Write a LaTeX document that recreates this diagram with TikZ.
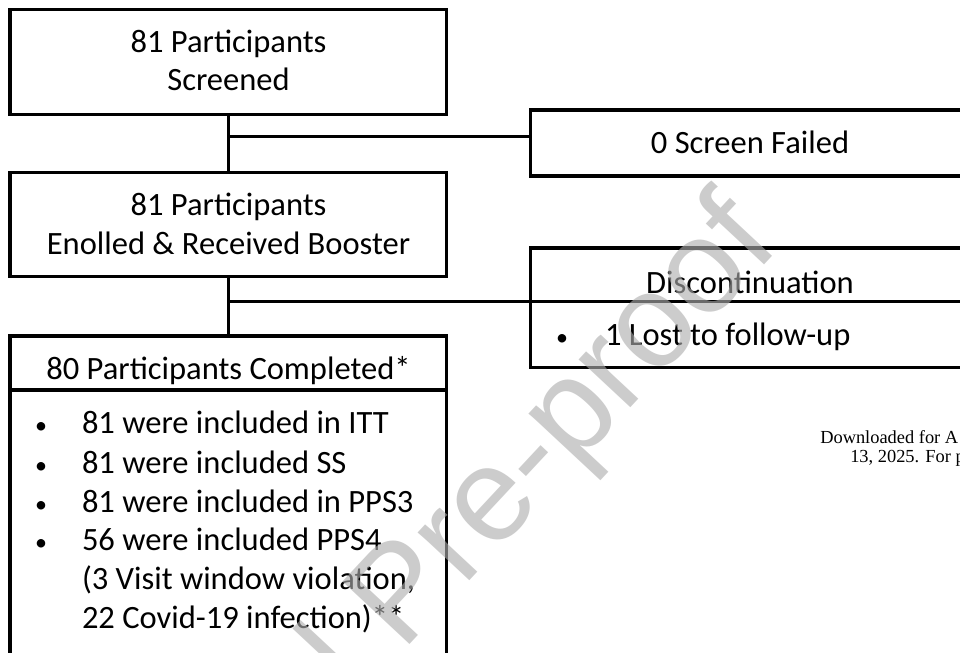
\documentclass[tikz,border=0pt]{standalone}
\usepackage{fontspec}
\setmainfont{Carlito}
\newfontfamily\wmfont{Liberation Sans}
\newfontfamily\dlfont{Liberation Serif}
\begin{document}
\begin{tikzpicture}[x=0.75pt,y=-0.75pt,
  box/.style={draw, line width=2.4pt, rectangle, inner sep=0pt, outer sep=0pt, anchor=north west},
  txt/.style={inner sep=0pt, outer sep=0pt, font=\fontsize{24.4pt}{29pt}\selectfont},
  bul/.style={inner sep=0pt, outer sep=0pt, anchor=base, font=\fontsize{18pt}{20pt}\selectfont},
  conn/.style={line width=2.4pt},
  dl/.style={inner sep=0pt, anchor=base west, font=\dlfont\fontsize{13.8pt}{14pt}\selectfont},
  wm/.style={inner sep=0pt, text=black!32, text opacity=0.62, font=\wmfont\fontsize{100pt}{100pt}\selectfont}]
\useasboundingbox (0,0) rectangle (960,653);
\clip (0,0) rectangle (960,653);
\fill[white] (0,0) rectangle (960,653);

% boxes
\node[box, minimum width=327.5pt, minimum height=78.75pt] (b1) at (10,9.3) {};
\node[box, minimum width=327.5pt, minimum height=78pt] (b2) at (10,172.7) {};
\node[box, minimum width=327.5pt, minimum height=252pt] (b3) at (10,336) {};
\node[box, minimum width=333pt, minimum height=49.5pt] (sf) at (530.7,110) {};
\node[box, minimum width=333pt, minimum height=89.8pt] (dc) at (530.7,248) {};

% connectors
\coordinate (y1) at (0,136.7);
\coordinate (y2) at (0,301.7);
\coordinate (y3) at (0,390);
\coordinate (j1) at (b1.south |- y1);
\coordinate (j2) at (b2.south |- y2);
\draw[conn] (b1.south) -- (b2.north);
\draw[conn] (b2.south) -- (b3.north);
\draw[conn] (j1) -- (j1 -| sf.west);
\draw[conn] (j2) -- (j2 -| dc.east);
\draw[conn] (b3.west |- y3) -- (b3.east |- y3);

% texts
\node[txt, anchor=base] (t1a) at (228.5,52) {81 Participants};
\node[txt, anchor=base] (t1b) at (228.5,90) {Screened};
\node[txt, anchor=base] (t2a) at (228.5,215) {81 Participants};
\node[txt, anchor=base] (t2b) at (228.5,254) {Enolled \& Received Booster};
\node[txt, anchor=base] (t3h) at (228.5,379) {80 Participants Completed*};
\node[bul] (bu1) at (41,433) {•};
\node[txt, anchor=base west] (l1) at (82,433) {81 were included in ITT};
\node[bul] (bu2) at (41,473) {•};
\node[txt, anchor=base west] (l2) at (82,473) {81 were included SS};
\node[bul] (bu3) at (41,512) {•};
\node[txt, anchor=base west] (l3) at (82,512) {81 were included in PPS3};
\node[bul] (bu4) at (41,550) {•};
\node[txt, anchor=base west] (l4) at (82,550) {56 were included PPS4};
\node[txt, anchor=base west] (l5) at (82,589) {(3 Visit window violation,};
\node[txt, anchor=base west] (l6) at (82,628) {22 Covid-19 infection)**};
\node[txt, anchor=base] (tsf) at (750,153) {0 Screen Failed};
\node[txt, anchor=base] (tdc) at (750,293) {Discontinuation};
\node[bul] (bu5) at (562,345) {•};
\node[txt, anchor=base west] (tlf) at (605,345) {1 Lost to follow-up};

% download note
\node[dl] (dl1) at (820,443) {Downloaded for A};
\node[dl] (dl2) at (850,462) {13, 2025. For p};

% watermark
\node[wm, rotate=47, anchor=base east] (wmk) at (782,246) {Journal Pre-proof};
\end{tikzpicture}
\end{document}
